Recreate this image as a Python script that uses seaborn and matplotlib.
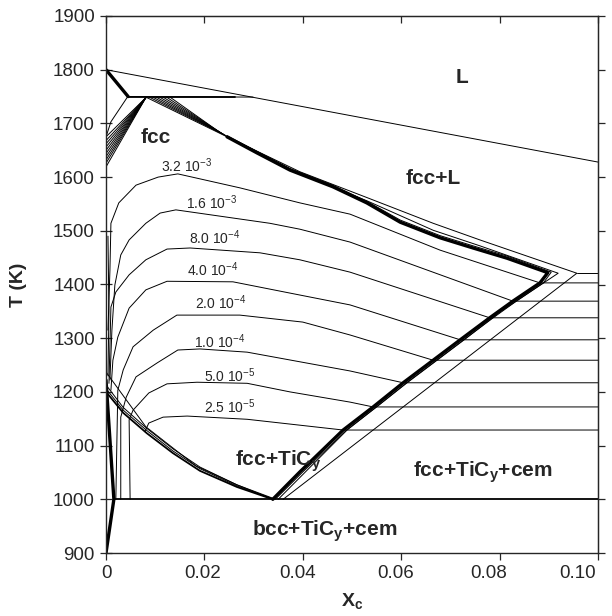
import matplotlib
matplotlib.use("Agg")
import matplotlib.pyplot as plt
from matplotlib.transforms import ScaledTranslation
import pandas as pd
import seaborn as sns

sns.set_style("ticks")
plt.rcParams["font.family"] = ["Liberation Sans", "DejaVu Sans"]
plt.rcParams["mathtext.fontset"] = "custom"
plt.rcParams["mathtext.rm"] = "Liberation Sans"
plt.rcParams["mathtext.bf"] = "Liberation Sans:bold"
plt.rcParams["mathtext.it"] = "Liberation Sans:italic"
plt.rcParams["mathtext.default"] = "regular"

# ---------------- data (mole fraction C, temperature K) ----------------
LIQ_X = [0.0, 0.100]
LIQ_T = [1800, 1628]

TOP_X = [0.0, 0.0045]
TOP_T = [1800, 1750]

PERI_X = [0.0043, 0.0299]
PERI_T = [1750, 1749]
PERI_THICK_X = [0.0045, 0.0262]
PERI_THICK_T = [1750, 1750]

FCC_TOP_X = [0.0, 0.0010, 0.0045]
FCC_TOP_T = [1675, 1703, 1751]

FAN_L_T0 = [1619, 1626, 1632, 1638, 1644, 1650, 1656, 1662, 1668, 1675]
FAN_L_END_X = 0.0081
FAN_L_END_T = 1748

FAN_R_X0 = [0.0081, 0.0088, 0.0095, 0.0102, 0.0109, 0.0116, 0.0123, 0.0130]
FAN_R_X1 = [0.0246, 0.0244, 0.0242, 0.0240, 0.0238, 0.0236, 0.0234, 0.0232]
FAN_R_T1 = [1675, 1677, 1678, 1679, 1680, 1681, 1682, 1683]
FAN_R_T0 = 1749

FCC_U_X = [0.0246, 0.0307, 0.0374, 0.0461, 0.0530, 0.0598, 0.0679, 0.0746, 0.0815, 0.0898]
FCC_U_T = [1675, 1645, 1613, 1582, 1552, 1516, 1487, 1468, 1449, 1422]
FCC_L_X = [0.0898, 0.0882, 0.0827, 0.0780, 0.0720, 0.0665, 0.0604, 0.0543, 0.0482, 0.0394, 0.0339]
FCC_L_T = [1422, 1403, 1369, 1338, 1297, 1259, 1217, 1172, 1129, 1051, 1000]

COMP_X = [0.0246, 0.0307, 0.0374, 0.0461, 0.0530, 0.0598, 0.0679, 0.0746, 0.0815, 0.0905,
          0.0889, 0.0834, 0.0787, 0.0727, 0.0672, 0.0611, 0.0550, 0.0489, 0.0400, 0.0344]
COMP_T = [1677, 1648, 1616, 1585, 1555, 1520, 1491, 1472, 1453, 1423,
          1403, 1369, 1338, 1297, 1259, 1217, 1172, 1129, 1051, 1000]

OUT2_X = [0.0246, 0.0394, 0.0530, 0.0665, 0.0760, 0.0919, 0.0801, 0.0728, 0.0612, 0.0490, 0.0350]
OUT2_T = [1675, 1606, 1556, 1501, 1472, 1421, 1349, 1297, 1217, 1129, 1000]
OUT1_X = [0.0246, 0.0394, 0.0530, 0.0665, 0.0760, 0.0957, 0.0360]
OUT1_T = [1675, 1610, 1562, 1514, 1483, 1421, 1000]
TIP_X = [0.0957, 0.100]
TIP_T = [1421, 1421]

# iso-activity contours (continue horizontally to the right edge)
C1_X = [0.0004, 0.0008, 0.0010, 0.0026, 0.0061, 0.0106, 0.0146, 0.0272, 0.0394, 0.0496, 0.0679, 0.0882, 0.100]
C1_T = [1315, 1427, 1514, 1552, 1585, 1600, 1606, 1580, 1552, 1531, 1464, 1403, 1403]
C2_X = [0.0008, 0.0012, 0.0018, 0.0030, 0.0047, 0.0081, 0.0110, 0.0142, 0.0333, 0.0394, 0.0496, 0.0827, 0.100]
C2_T = [1222, 1315, 1399, 1455, 1483, 1514, 1533, 1539, 1514, 1503, 1479, 1369, 1369]
C3_X = [0.0006, 0.0010, 0.0020, 0.0047, 0.0081, 0.0124, 0.0171, 0.0313, 0.0394, 0.0496, 0.0780, 0.100]
C3_T = [1216, 1358, 1386, 1418, 1446, 1466, 1468, 1459, 1446, 1423, 1338, 1338]
C4_X = [0.0010, 0.0014, 0.0024, 0.0047, 0.0081, 0.0124, 0.0258, 0.0374, 0.0496, 0.0720, 0.100]
C4_T = [1203, 1259, 1302, 1356, 1390, 1406, 1405, 1384, 1362, 1297, 1297]
C5_X = [0.0020, 0.0024, 0.0035, 0.0055, 0.0096, 0.0144, 0.0272, 0.0400, 0.0496, 0.0665, 0.100]
C5_T = [1000, 1203, 1241, 1284, 1315, 1343, 1343, 1330, 1306, 1259, 1259]
C6_X = [0.0030, 0.0030, 0.0041, 0.0061, 0.0104, 0.0146, 0.0191, 0.0287, 0.0496, 0.0604, 0.100]
C6_T = [1000, 1153, 1190, 1228, 1254, 1278, 1280, 1274, 1239, 1217, 1217]
C7_X = [0.0049, 0.0047, 0.0055, 0.0087, 0.0124, 0.0185, 0.0287, 0.0374, 0.0496, 0.0543, 0.100]
C7_T = [1000, 1148, 1166, 1198, 1215, 1218, 1216, 1200, 1181, 1172, 1172]
C8_X = [0.0079, 0.0087, 0.0116, 0.0165, 0.0287, 0.0482, 0.100]
C8_T = [1126, 1142, 1153, 1155, 1149, 1129, 1129]

# lower-left fcc / fcc+TiC boundaries
B0_X = [0.0002, 0.0035, 0.0083, 0.0136, 0.0191, 0.0266, 0.0339]
B0_T = [1198, 1161, 1123, 1086, 1053, 1023, 1000]
B1_X = [0.0, 0.0035, 0.0083, 0.0136, 0.0191, 0.0266, 0.0339]
B1_T = [1206, 1166, 1128, 1090, 1057, 1025, 1001]
B2_X = [0.0, 0.0035, 0.0083, 0.0136, 0.0191, 0.0266, 0.0339]
B2_T = [1213, 1171, 1132, 1094, 1060, 1027, 1002]
B3_X = [0.0, 0.0081, 0.0183, 0.0266, 0.0339]
B3_T = [1237, 1135, 1062, 1027, 1000]

V1_X = [0.0004, 0.0006, 0.0004]
V1_T = [1490, 1350, 1230]
K_X = [0.0, 0.0016, 0.0]
K_T = [1222, 1000, 900]
EUT_X = [0.0016, 0.100]
EUT_T = [1000, 1000]

REGION_LABELS = ["L", "fcc", "fcc+L", r"fcc+TiC$_\mathbf{y}$",
                 r"fcc+TiC$_\mathbf{y}$+cem", r"bcc+TiC$_\mathbf{y}$+cem"]
REGION_X = [0.0724, 0.0102, 0.0665, 0.0350, 0.0766, 0.0445]
REGION_T = [1785, 1673, 1598, 1071, 1051, 941]

CONT_LABELS = ["3.2 10$^{-3}$", "1.6 10$^{-3}$", "8.0 10$^{-4}$", "4.0 10$^{-4}$",
               "2.0 10$^{-4}$", "1.0 10$^{-4}$", "5.0 10$^{-5}$", "2.5 10$^{-5}$"]
CONT_X = [0.0163, 0.0215, 0.0220, 0.0217, 0.0234, 0.0232, 0.0252, 0.0252]
CONT_T = [1622, 1552, 1487, 1427, 1366, 1293, 1231, 1172]

X_TICKS = [0.0, 0.02, 0.04, 0.06, 0.08, 0.10]
X_TICKLABELS = ["0", "0.02", "0.04", "0.06", "0.08", "0.10"]
Y_TICKS = [900, 1000, 1100, 1200, 1300, 1400, 1500, 1600, 1700, 1800, 1900]

# ---------------- build long table ----------------
rows = []


def add(name, xs, ts, cls):
    for i, (x, t) in enumerate(zip(xs, ts)):
        rows.append({"curve": name, "order": i, "x": x, "T": t, "cls": cls})


add("liq", LIQ_X, LIQ_T, "thin")
add("top", TOP_X, TOP_T, "thick")
add("peri", PERI_X, PERI_T, "thin")
add("peri_thick", PERI_THICK_X, PERI_THICK_T, "mid")
add("fcctop", FCC_TOP_X, FCC_TOP_T, "thin")
for i, t0 in enumerate(FAN_L_T0):
    add(f"fanl{i}", [0.0, FAN_L_END_X], [t0, FAN_L_END_T], "thin")
for i, (x0, x1, t1) in enumerate(zip(FAN_R_X0, FAN_R_X1, FAN_R_T1)):
    add(f"fanr{i}", [x0, x1], [FAN_R_T0, t1], "thin")
add("fcc", FCC_U_X + FCC_L_X, FCC_U_T + FCC_L_T, "thick")
add("comp", COMP_X, COMP_T, "thin")
add("out2", OUT2_X, OUT2_T, "thin")
add("out1", OUT1_X, OUT1_T, "thin")
add("tip", TIP_X, TIP_T, "thin")
for n, (xs, ts) in enumerate([(C1_X, C1_T), (C2_X, C2_T), (C3_X, C3_T), (C4_X, C4_T),
                              (C5_X, C5_T), (C6_X, C6_T), (C7_X, C7_T), (C8_X, C8_T)]):
    add(f"c{n}", xs, ts, "thin")
add("b0", B0_X, B0_T, "mid")
add("b1", B1_X, B1_T, "thin")
add("b2", B2_X, B2_T, "thin")
add("b3", B3_X, B3_T, "thin")
add("v1", V1_X, V1_T, "thin")
add("k", K_X, K_T, "thick")
add("eut", EUT_X, EUT_T, "mid")

df = pd.DataFrame(rows)

# ---------------- plot ----------------
fig = plt.figure(figsize=(6.12, 6.16), dpi=100)
ax = fig.add_axes([106 / 612, 63 / 616, 492 / 612, 537 / 616])

for cls, lw in [("thin", 0.7), ("mid", 1.3), ("thick", 2.4)]:
    sub = df[df["cls"] == cls]
    sns.lineplot(data=sub, x="x", y="T", units="curve", estimator=None, sort=False,
                 color="black", linewidth=lw, ax=ax, legend=False)

for lab, x, t in zip(REGION_LABELS, REGION_X, REGION_T):
    ax.text(x, t, lab, ha="center", va="center", fontsize=15, fontweight="bold")
for lab, x, t in zip(CONT_LABELS, CONT_X, CONT_T):
    ax.text(x, t, lab, ha="center", va="center", fontsize=10)

ax.set_xlim(0, 0.10)
ax.set_ylim(900, 1900)
ax.set_xticks(X_TICKS)
ax.set_xticklabels(X_TICKLABELS)
ax.set_yticks(Y_TICKS)
ax.tick_params(axis="x", direction="out", length=5, width=0.9, labelsize=13.5, pad=4,
               top=False)
ax.tick_params(axis="y", direction="inout", length=8, width=0.9, labelsize=13.5, pad=4,
               right=False)

# nudge the x tick labels left as in the original print (keeps "0.10" inside)
shifts_px = [0, -2, -5, -6, -11, -20]
for lbl, dx in zip(ax.get_xticklabels(), shifts_px):
    lbl.set_transform(lbl.get_transform() + ScaledTranslation(dx / 100, 0, fig.dpi_scale_trans))

secx = ax.secondary_xaxis("top")
secx.set_xticks(X_TICKS)
secx.set_xticklabels([])
secx.tick_params(direction="in", length=5, width=0.9)
secy = ax.secondary_yaxis("right")
secy.set_yticks(Y_TICKS)
secy.set_yticklabels([])
secy.tick_params(direction="out", length=5, width=0.9)

for sp in ax.spines.values():
    sp.set_linewidth(1.0)
    sp.set_visible(True)

ax.set_xlabel(r"X$_\mathbf{c}$", fontsize=14, fontweight="bold")
ax.set_ylabel("T (K)", fontsize=14, fontweight="bold")
ax.xaxis.set_label_coords(0.5, -0.07)
ax.yaxis.set_label_coords(-0.16, 0.5)

fig.savefig("out.png", dpi=100)
